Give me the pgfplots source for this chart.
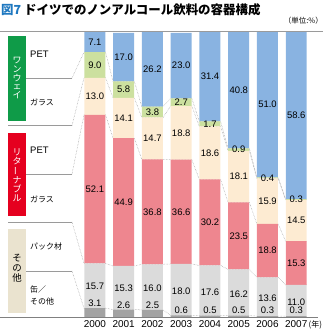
\documentclass[border=0pt]{standalone}
\usepackage{pgfplots}
\pgfplotsset{compat=1.18}
\usepackage{pgfplotstable}
\usepackage{graphicx}
\usepackage{fontspec}
\setmainfont{Liberation Sans}
\newfontfamily\jp{Noto Sans CJK JP}
\definecolor{cblue}{HTML}{89B3E1}
\definecolor{cgreen}{HTML}{CCE09F}
\definecolor{ccream}{HTML}{FDEBD2}
\definecolor{cpink}{HTML}{EE868F}
\definecolor{clgray}{HTML}{DBDBDB}
\definecolor{cdgray}{HTML}{A3A3A3}
\definecolor{boxgreen}{HTML}{0F9B48}
\definecolor{boxred}{HTML}{E5001F}
\definecolor{boxbeige}{HTML}{EAE3CF}
\definecolor{titleblue}{HTML}{1F78C0}
\definecolor{linegray}{HTML}{9A9A9A}

% shares (%), bottom to top: can/other, pack, returnable glass, returnable PET, one-way glass, one-way PET
\pgfplotstableread{
x d l p c g b
0 3.1 15.7 52.1 13.0 9.0 7.1
1 2.6 15.3 44.9 14.1 5.8 17.0
2 2.5 16.0 36.8 14.7 3.8 26.2
3 0.6 18.0 36.6 18.8 2.7 23.0
4 0.5 17.6 30.2 18.6 1.7 31.4
5 0.5 16.2 23.5 18.1 0.9 40.8
6 0.3 13.6 18.8 15.9 0.4 51.0
7 0.3 11.0 15.3 14.5 0.3 58.6
}\shares

% cumulative boundaries at bar edges (for the connector lines)
\pgfplotstableread{
xe c1 c2 c3 c4 c5
-0.37 3.1 18.8 70.9 83.9 92.9
0.37 3.1 18.8 70.9 83.9 92.9
0.63 2.6 17.9 62.8 76.9 82.7
1.37 2.6 17.9 62.8 76.9 82.7
1.63 2.5 18.5 55.3 70.0 73.8
2.37 2.5 18.5 55.3 70.0 73.8
2.63 0.6 18.6 55.2 74.0 76.7
3.37 0.6 18.6 55.2 74.0 76.7
3.63 0.5 18.1 48.3 66.9 68.6
4.37 0.5 18.1 48.3 66.9 68.6
4.63 0.5 16.7 40.2 58.3 59.2
5.37 0.5 16.7 40.2 58.3 59.2
5.63 0.3 13.9 32.7 48.6 49.0
6.37 0.3 13.9 32.7 48.6 49.0
6.63 0.3 11.3 26.6 41.1 41.4
7.37 0.3 11.3 26.6 41.1 41.4
}\bounds

% value labels: x, y position, text
\pgfplotstableread{
x y lab
0 96.45 7.1
1 91.2 17.0
2 86.9 26.2
3 88.2 23.0
4 84.3 31.4
5 79.6 40.8
6 74.5 51.0
7 70.7 58.6
0 88.4 9.0
1 79.8 5.8
2 71.9 3.8
3 75.35 2.7
4 67.75 1.7
5 58.75 0.9
6 48.8 0.4
7 41.25 0.3
0 77.4 13.0
1 69.85 14.1
2 62.65 14.7
3 64.6 18.8
4 57.6 18.6
5 49.25 18.1
6 40.65 15.9
7 33.85 14.5
0 44.85 52.1
1 40.35 44.9
2 36.9 36.8
3 36.9 36.6
4 33.2 30.2
5 28.45 23.5
6 23.3 18.8
7 18.95 15.3
0 10.6 15.7
1 10.1 15.3
2 10.1 16.0
3 9.0 18.0
4 8.7 17.6
5 8.1 16.2
6 6.7 13.6
7 5.1 11.0
0 4.9 3.1
1 4.2 2.6
2 4.2 2.5
3 2.3 0.6
4 2.5 0.5
5 2.5 0.5
6 2.2 0.3
7 2.2 0.3
}\labels

\pgfplotsset{base/.style={
  scale only axis, width=323bp, height=285bp,
  at={(0bp,13bp)}, anchor=south west,
  xmin=-3.3, xmax=7.93, ymin=0, ymax=100, clip=false}}

\begin{document}
\begin{tikzpicture}
\path[use as bounding box] (0,0) rectangle (323bp,330bp);

% connector lines (behind the bars)
\begin{axis}[base, hide axis]
\foreach \c in {c1,c2,c3,c4,c5}{
  \addplot[linegray, densely dotted, line width=0.5bp] table[x=xe, y=\c] {\bounds};
}
\end{axis}

% stacked bars
\begin{axis}[base, ybar stacked, bar width=0.73,
  axis line style={draw=none}, major tick length=0pt,
  ytick=\empty, xtick={0,...,7},
  xticklabels={2000,2001,2002,2003,2004,2005,2006,2007},
  xticklabel style={font=\fontsize{10}{10}\selectfont, anchor=base, inner sep=0pt, yshift=-10.5bp}]
\addplot[fill=cdgray, draw=none] table[x=x, y=d] {\shares};
\addplot[fill=clgray, draw=none] table[x=x, y=l] {\shares};
\addplot[fill=cpink, draw=none] table[x=x, y=p] {\shares};
\addplot[fill=ccream, draw=none] table[x=x, y=c] {\shares};
\addplot[fill=cgreen, draw=none] table[x=x, y=g] {\shares};
\addplot[fill=cblue, draw=none] table[x=x, y=b] {\shares};
\end{axis}

% value labels
\begin{axis}[base, hide axis]
\addplot[draw=none, mark=none, nodes near coords, point meta=explicit symbolic,
  nodes near coords style={anchor=center, inner sep=0pt, font=\fontsize{9.5}{9.5}\selectfont, text=black}]
  table[x=x, y=y, meta=lab] {\labels};
\end{axis}

\begin{scope}[x=1bp, y=-1bp, yshift=330bp]
% title and unit
\node[anchor=west, inner sep=0pt, font=\jp\bfseries\fontsize{12.5}{12.5}\selectfont] at (1,9.5)
  {\textcolor{titleblue}{図7}\hspace{3bp}ドイツでのノンアルコール飲料の容器構成};
\node[anchor=east, inner sep=0pt, font=\jp\fontsize{7.5}{7.5}\selectfont] at (323,21) {（単位:\%）};
\node[anchor=west, inner sep=0pt, font=\jp\fontsize{8}{8}\selectfont] at (308.5,324.5) {(年)};

% frame lines
\draw[linegray, line width=0.6bp] (0,31) -- (323,31);
\draw[gray, line width=0.6bp] (0,317.5) -- (318,317.5);

% legend boxes
\fill[boxgreen] (8,36.5) rectangle (26,121);
\fill[boxred] (8,133) rectangle (26,216);
\fill[boxbeige] (8,229) rectangle (26,313);
\node[inner sep=0pt, align=center, text=white, font=\jp\fontsize{9}{9}\selectfont] at (17,78)
  {ワ\\ン\\ウ\\ェ\\イ};
\node[inner sep=0pt, align=center, text=white, font=\jp\fontsize{9}{9}\selectfont] at (17,175)
  {リ\\タ\\\rotatebox[origin=c]{90}{ー}\\ナ\\ブ\\ル};
\node[inner sep=0pt, align=center, text=black, font=\jp\fontsize{9.5}{10}\selectfont] at (17,268)
  {そ\\の\\他};

% legend texts
\node[anchor=west, inner sep=0pt, font=\fontsize{9.5}{9.5}\selectfont] at (30,54) {PET};
\node[anchor=west, inner sep=0pt, font=\jp\fontsize{8}{8}\selectfont] at (30,102) {ガラス};
\node[anchor=west, inner sep=0pt, font=\fontsize{9.5}{9.5}\selectfont] at (30,150) {PET};
\node[anchor=west, inner sep=0pt, font=\jp\fontsize{8}{8}\selectfont] at (30,199) {ガラス};
\node[anchor=west, inner sep=0pt, font=\jp\fontsize{8}{8}\selectfont] at (30,246) {パック材};
\node[anchor=west, inner sep=0pt, font=\jp\fontsize{8}{8}\selectfont] at (30,289) {缶／};
\node[anchor=west, inner sep=0pt, font=\jp\fontsize{8}{8}\selectfont] at (30,301.5) {その他};

% legend leader lines
\draw[linegray, line width=0.5bp] (26,78) -- (72,78);
\draw[linegray, line width=0.5bp, densely dotted] (72,78) -- (84,52.2);
\draw[linegray, line width=0.5bp] (8,125.5) -- (72,125.5);
\draw[linegray, line width=0.5bp, densely dotted] (72,125.5) -- (84,77.9);
\draw[linegray, line width=0.5bp] (26,174) -- (72,174);
\draw[linegray, line width=0.5bp, densely dotted] (72,174) -- (84,114.9);
\draw[linegray, line width=0.5bp] (8,222) -- (72,222);
\draw[linegray, line width=0.5bp, densely dotted] (72,222) -- (84,263.4);
\draw[linegray, line width=0.5bp] (26,271) -- (72,271);
\draw[linegray, line width=0.5bp, densely dotted] (72,271) -- (84,308.2);
\end{scope}
\end{tikzpicture}
\end{document}
